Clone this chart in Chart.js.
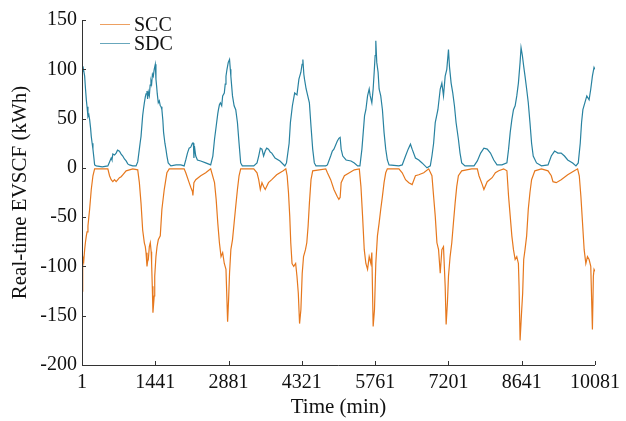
<!DOCTYPE html>
<html>
<head>
<meta charset="utf-8">
<script src="https://cdn.jsdelivr.net/npm/chart.js@4.4.1/dist/chart.umd.min.js"></script>
<style>
  html, body { margin: 0; padding: 0; background: #fff; }
  #wrap { width: 626px; height: 421px; }
</style>
</head>
<body>
<div id="wrap"><canvas id="chart" width="626" height="421"></canvas></div>
<script>
'use strict';

/* DATA (minutes / kWh) */
const xTicks = [1, 1441, 2881, 4321, 5761, 7201, 8641, 10081];

const sdcTime = [1,20,53,70,86,100,118,135,151,170,183,200,216,235,249,281,400,509,542,574,590,607,640,672,700,737,770,802,835,868,900,933,998,1063,1096,1128,1145,1161,1193,1210,1226,1245,1259,1278,1290,1304,1324,1340,1356,1369,1385,1402,1420,1441,1454,1467,1480,1500,1520,1539,1555,1571,1590,1604,1630,1650,1670,1695,1747,1850,1943,2008,2040,2073,2106,2138,2171,2190,2200,2210,2236,2269,2334,2432,2529,
  2572,2605,2637,2669,2682,2701,2720,2746,2765,2797,2815,2830,2850,2875,2900,2915,2926,2958,2990,3022,3055,3087,3119,3151,3376,3440,3473,3505,3537,3569,3601,3630,3665,3700,3730,3794,3891,3987,4019,4071,4096,4135,4180,4225,4263,4302,4325,4341,4360,4373,4405,4437,4469,4501,4534,4566,4598,4791,4823,4887,4920,4951,5016,5048,
  5073,5093,5125,5190,5287,5352,5417,5462,5501,5527,5553,5579,5612,5644,5664,5696,5722,5742,5761,5774,5793,5819,5839,5871,5904,5936,5969,6001,6034,6228,6293,6358,6410,6455,6488,6553,6618,6683,6780,6845,6877,6910,6942,6994,7040,7072,7104,7137,7169,7202,7221,7254,7286,7319,7351,7397,7429,7462,7527,7656,
  7704,7769,7834,7898,7963,8027,8092,8156,8253,8350,8383,8415,8447,8479,8512,8544,8576,8609,8628,8654,8680,8706,8738,8770,8803,8835,8867,8932,9029,9158,9222,9287,9352,9416,9481,9545,9642,9707,9752,9791,9817,9843,9881,9920,9965,9998,10030,10062,10081];
const sdcValue = [98,103,93,80,69,62,52,54,49,40,32,25,19,10,3,2,1,2,6,10,8,14,13,15,18,17,14,12,9,7,4,3,2,2,6,19,26,32,53,60,66,72,75,78,70,77,73,84,88,85,95,93,100,105,90,83,75,66,68,63,62,59,48,36,25,19,12,5,2,3,3,2,8,15,20,21,25,25,10,22,12,8,7,5,3,
  12,29,42,55,59,64,66,63,73,76,85,93,100,107,110,100,93,73,63,59,46,25,5,2,2,5,12,20,19,12,17,20,19,16,15,10,7,2,5,25,46,63,76,74,90,97,105,110,95,90,80,73,66,42,19,5,2,2,3,12,17,19,27,30,
  31,19,12,8,7,5,2,2,19,36,53,59,73,80,73,66,80,97,114,129,107,97,80,73,59,36,19,8,3,2,3,12,19,24,19,10,8,5,0,2,12,25,46,59,80,86,73,93,100,120,103,86,76,63,46,29,15,5,2,2,
  2,7,15,20,19,15,8,3,3,5,19,36,49,59,63,73,86,107,122,114,103,93,80,66,46,25,12,5,2,3,12,17,15,15,12,8,5,2,5,25,46,59,66,73,69,80,93,102,100];

const sccTime = [1,10,20,35,53,70,86,100,118,135,151,183,216,249,281,509,542,574,607,640,672,705,737,770,802,868,998,1096,1128,1161,1193,1226,1245,1259,1278,1290,1304,1324,1343,1360,1369,1382,1395,1408,1420,1430,1454,1475,1500,1539,1571,1617,1669,1715,2008,2040,2106,2140,2171,2180,2200,2236,2334,2432,2529,
  2605,2637,2669,2701,2733,2765,2797,2830,2849,2862,2881,2900,2926,2958,2990,3022,3055,3087,3119,3376,3440,3473,3505,3537,3569,3601,3665,3730,3826,3955,4006,4032,4058,4083,4103,4128,4161,4199,4225,4251,4276,4302,4328,4354,4392,4418,4444,4469,4501,4534,4791,4823,4887,4951,5016,5048,
  5060,5073,5093,5157,5255,5352,5450,5482,5514,5547,5579,5612,5644,5677,5696,5722,5748,5774,5806,5839,5871,5904,5936,5969,6001,6228,6293,6358,6423,6488,6553,6618,6716,6813,6877,6910,6942,6975,7007,7040,7072,7104,7137,7156,7182,7202,7234,7267,7299,7332,7364,7397,7462,7656,
  7704,7769,7801,7866,7898,7963,8060,8124,8189,8286,8350,8383,8415,8447,8479,8512,8544,8576,8589,8609,8641,8660,8680,8706,8738,8770,8803,8835,8899,9029,9158,9222,9255,9319,9416,9545,9675,9739,9772,9804,9836,9868,9901,9933,9965,9998,10030,10049,10062,10081];
const sccValue = [-125,-100,-90,-95,-83,-75,-69,-65,-59,-50,-42,-22,-8,-1,-1,-1,-8,-12,-14,-12,-14,-12,-10,-9,-7,-3,-1,-2,-15,-36,-63,-76,-80,-86,-100,-95,-93,-80,-76,-85,-97,-120,-147,-138,-130,-110,-90,-80,-73,-69,-42,-22,-5,-1,-1,-5,-15,-20,-24,-28,-15,-12,-8,-5,-1,
  -15,-32,-56,-76,-90,-86,-97,-103,-134,-156,-134,-107,-83,-73,-56,-39,-22,-8,-1,-1,-5,-12,-22,-15,-19,-22,-15,-12,-7,-3,-1,-8,-25,-49,-76,-97,-100,-97,-110,-127,-158,-144,-107,-90,-83,-76,-59,-36,-12,-3,-1,-5,-12,-22,-29,-32,
  -31,-30,-15,-8,-5,-2,-1,-19,-49,-83,-97,-103,-90,-97,-86,-161,-144,-97,-69,-56,-42,-29,-15,-5,-1,-1,-5,-12,-15,-17,-8,-7,-5,-1,-8,-29,-49,-76,-83,-107,-83,-80,-120,-159,-136,-110,-90,-76,-56,-36,-19,-8,-3,-1,
  -1,-1,-8,-17,-22,-14,-10,-5,-3,-1,-3,-29,-49,-69,-83,-93,-90,-97,-120,-175,-144,-127,-93,-83,-69,-42,-25,-12,-3,-1,-3,-8,-14,-15,-12,-7,-3,-1,-8,-29,-56,-83,-97,-90,-93,-100,-164,-110,-103,-105];

const seriesNames = ['SCC', 'SDC'];
const seriesColors = ['#E6781E', '#2882A0'];

/* HELPERS */
const toPoints = (xs, ys) => xs.map((x, i) => ({ x, y: ys[i] }));
const FONT = "'Liberation Serif', 'DejaVu Serif', serif";

/* inward tick marks + legend drawn on top of the chart area */
const axisDecor = {
  id: 'axisDecor',
  afterDraw(chart) {
    const { ctx, chartArea: a, scales: { x, y } } = chart;
    ctx.save();
    ctx.strokeStyle = '#333';
    ctx.lineWidth = 1;
    ctx.beginPath();
    ctx.moveTo(a.left + 0.5, a.top);
    ctx.lineTo(a.left + 0.5, a.bottom + 0.5);
    ctx.lineTo(a.right, a.bottom + 0.5);
    y.ticks.forEach(t => {
      const py = Math.round(y.getPixelForValue(t.value)) + 0.5;
      ctx.moveTo(a.left, py); ctx.lineTo(a.left + 4, py);
    });
    x.ticks.forEach(t => {
      const px = Math.round(x.getPixelForValue(t.value)) + 0.5;
      ctx.moveTo(px, a.bottom); ctx.lineTo(px, a.bottom - 4);
    });
    ctx.stroke();

    // legend
    ctx.font = '20px ' + FONT;
    ctx.textBaseline = 'middle';
    seriesNames.forEach((n, i) => {
      const ly = a.top + 4.5 + i * 19;
      ctx.strokeStyle = seriesColors[i];
      ctx.globalAlpha = 0.7;
      ctx.beginPath();
      ctx.moveTo(a.left + 18, ly); ctx.lineTo(a.left + 48, ly);
      ctx.stroke();
      ctx.globalAlpha = 1;
      ctx.fillStyle = '#111';
      ctx.fillText(n, a.left + 52, ly + 1);
    });
    ctx.restore();
  }
};

new Chart(document.getElementById('chart'), {
  type: 'line',
  data: {
    datasets: [
      { label: seriesNames[0], data: toPoints(sccTime, sccValue), borderColor: seriesColors[0], borderWidth: 1.2, pointRadius: 0, tension: 0 },
      { label: seriesNames[1], data: toPoints(sdcTime, sdcValue), borderColor: seriesColors[1], borderWidth: 1.2, pointRadius: 0, tension: 0 }
    ]
  },
  options: {
    responsive: false,
    animation: false,
    layout: { padding: { top: 20, right: 27, bottom: 0, left: 0 } },
    plugins: { legend: { display: false }, tooltip: { enabled: false } },
    scales: {
      x: {
        type: 'linear',
        min: 1, max: 10081,
        afterBuildTicks: s => { s.ticks = xTicks.map(v => ({ value: v })); },
        afterFit: s => { s.height = 56; },
        border: { display: false },
        grid: { display: false, drawTicks: false },
        ticks: { color: '#111', font: { family: FONT, size: 20 }, padding: 6, maxRotation: 0, autoSkip: false, callback: v => String(v) },
        title: { display: true, text: 'Time (min)', color: '#111', font: { family: FONT, size: 21 }, padding: { top: 0, bottom: 1 } }
      },
      y: {
        min: -200, max: 150,
        afterFit: s => { s.width = 82; },
        border: { display: false },
        grid: { display: false, drawTicks: false },
        ticks: { stepSize: 50, color: '#111', font: { family: FONT, size: 20 }, padding: 5 },
        title: { display: true, text: 'Real-time EVSCF (kWh)', color: '#111', font: { family: FONT, size: 21 }, padding: { top: 8, bottom: 0 } }
      }
    }
  },
  plugins: [axisDecor]
});
</script>
</body>
</html>
